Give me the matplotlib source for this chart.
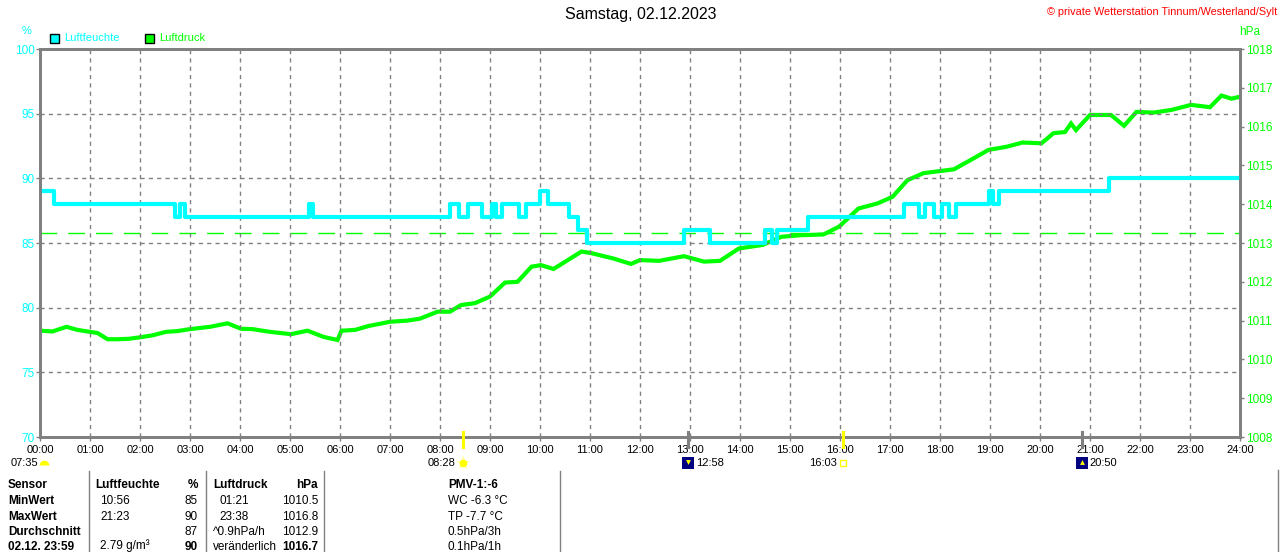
import matplotlib
matplotlib.use('Agg')
import matplotlib.pyplot as plt
from matplotlib.lines import Line2D
from matplotlib.patches import Rectangle

plt.rcParams['font.family'] = ['Liberation Sans', 'DejaVu Sans']

# --- data ---------------------------------------------------------------
# humidity (%), step changes: time in hours, value from that time on
hum_t = [0.00, 0.27, 2.70, 2.80, 2.90, 5.38, 5.45, 8.20, 8.38, 8.56, 8.84,
         9.04, 9.12, 9.24, 9.58, 9.72, 10.00, 10.15, 10.57, 10.75, 10.93,
         12.87, 13.40, 14.50, 14.63, 14.74, 15.36, 17.27, 17.57, 17.70,
         17.88, 18.03, 18.18, 18.32, 18.97, 19.05, 19.17, 21.38, 24.00]
hum_v = [89, 88, 87, 88, 87, 88, 87, 88, 87, 88, 87,
         88, 87, 88, 87, 88, 89, 88, 87, 86, 85,
         86, 85, 86, 85, 86, 87, 88, 87, 88,
         87, 88, 87, 88, 89, 88, 89, 90, 90]

# air pressure (hPa)
pres_t = [0.00, 0.25, 0.53, 0.75, 1.00, 1.15, 1.35, 1.55, 1.77, 2.00, 2.25,
          2.52, 2.75, 3.00, 3.40, 3.75, 4.02, 4.25, 4.60, 5.02, 5.35, 5.67,
          5.95, 6.03, 6.30, 6.57, 7.00, 7.35, 7.60, 7.95, 8.20, 8.42, 8.70,
          9.00, 9.30, 9.55, 9.83, 10.02, 10.27, 10.42, 10.83, 11.02, 11.47,
          11.82, 12.00, 12.38, 12.88, 13.28, 13.60, 13.98, 14.45, 14.83,
          15.20, 15.67, 15.98, 16.37, 16.75, 17.05, 17.35, 17.67, 18.28,
          18.67, 18.97, 19.33, 19.65, 20.03, 20.27, 20.50, 20.62, 20.72,
          21.00, 21.42, 21.68, 21.93, 22.27, 22.63, 23.02, 23.40, 23.63,
          23.83, 24.00]
pres_v = [1010.74, 1010.72, 1010.84, 1010.76, 1010.71, 1010.68, 1010.52,
          1010.52, 1010.53, 1010.57, 1010.62, 1010.71, 1010.73, 1010.78,
          1010.84, 1010.93, 1010.79, 1010.78, 1010.71, 1010.65, 1010.74,
          1010.58, 1010.50, 1010.74, 1010.76, 1010.86, 1010.97, 1011.00,
          1011.05, 1011.23, 1011.23, 1011.40, 1011.45, 1011.62, 1011.98,
          1012.00, 1012.39, 1012.43, 1012.33, 1012.45, 1012.78, 1012.74,
          1012.60, 1012.46, 1012.56, 1012.54, 1012.66, 1012.52, 1012.54,
          1012.86, 1012.95, 1013.16, 1013.20, 1013.22, 1013.42, 1013.89,
          1014.02, 1014.19, 1014.62, 1014.80, 1014.90, 1015.18, 1015.40,
          1015.48, 1015.59, 1015.57, 1015.83, 1015.86, 1016.08, 1015.91,
          1016.30, 1016.30, 1016.02, 1016.38, 1016.36, 1016.43, 1016.56,
          1016.50, 1016.80, 1016.72, 1016.77]

p_normal = 1013.25
hour_labels = ['%02d:00' % h for h in range(25)]

sun_events = [8 + 28 / 60, 16 + 3 / 60]     # sunrise / sunset
moon_events = [12 + 58 / 60, 20 + 50 / 60]  # moonset / moonrise

table_rows = [
    ['Sensor', 'Luftfeuchte', '%', 'Luftdruck', 'hPa', 'PMV-1:-6'],
    ['MinWert', '10:56', '85', '01:21', '1010.5', 'WC -6.3 °C'],
    ['MaxWert', '21:23', '90', '23:38', '1016.8', 'TP -7.7 °C'],
    ['Durchschnitt', '', '87', '^0.9hPa/h', '1012.9', '0.5hPa/3h'],
    ['02.12. 23:59', '2.79 g/m³', '90', 'veränderlich', '1016.7', '0.1hPa/1h'],
]

CYAN = '#00FFFF'
GREEN = '#00FF00'
GRAY = '#808080'
W, H = 1280, 552


def fx(x):
    return x / W


def fy(y):
    return 1 - y / H


fig = plt.figure(figsize=(12.8, 5.52), dpi=100)
ax = fig.add_axes([fx(40), fy(437), 1200 / W, 388 / H])
ax2 = ax.twinx()
ax.set_zorder(ax2.get_zorder() + 1)
ax.patch.set_visible(False)

# pressure (right axis)
ax2.plot(pres_t, pres_v, color=GREEN, lw=3, solid_joinstyle='miter')
ax2.axhline(p_normal, color=GREEN, lw=1, ls=(0, (12, 8)))
ax2.set_ylim(1008, 1018)
ax2.set_yticks(range(1008, 1019))
ax2.tick_params(axis='y', colors=GRAY, labelcolor=GREEN, labelsize=8.5,
                length=3, width=1, pad=1)

# humidity (left axis)
ax.step(hum_t, hum_v, where='post', color=CYAN, lw=3)
ax.set_xlim(0, 24)
ax.set_ylim(70, 100)
ax.set_xticks(range(25))
ax.set_xticklabels(hour_labels)
ax.set_yticks(range(70, 101, 5))
ax.tick_params(axis='y', colors=GRAY, labelcolor=CYAN, labelsize=8.5,
               length=3, width=1, pad=1)
ax.tick_params(axis='x', colors=GRAY, labelcolor='black', labelsize=8,
               length=3, width=1, pad=3)
ax.grid(True, color=GRAY, lw=1, ls=(0, (3, 3)))

for a in (ax, ax2):
    for s in a.spines.values():
        s.set_color(GRAY)
        s.set_linewidth(2)

# sun / moon marks on the time axis
xt = ax.get_xaxis_transform()
for t in sun_events:
    ax.plot([t, t], [0.013, -0.026], color='#FFFF00', lw=2.2, transform=xt,
            clip_on=False, zorder=5)
for t in moon_events:
    ax.plot([t, t], [0.013, -0.026], color=GRAY, lw=2.2, transform=xt,
            clip_on=False, zorder=5)

# icons and times below the hour labels
ax.plot([0.08], [-0.072], transform=xt, clip_on=False, marker='o', ms=7,
        fillstyle='top', markerfacecolor='#FFFF00', markerfacecoloralt='none',
        markeredgewidth=0)
fig.text(fx(38), fy(463), '07:35', fontsize=8, ha='right', va='center')
ax.plot([sun_events[0]], [-0.067], transform=xt, clip_on=False, marker='*',
        ms=11, color='#FFFFAA', markeredgewidth=0)
ax.plot([sun_events[0]], [-0.067], transform=xt, clip_on=False, marker='o',
        ms=5.5, color='#FFFF00', markeredgewidth=0)
fig.text(fx(456), fy(463), '08:28', fontsize=8, ha='right', va='center')
ax.plot([sun_events[1]], [-0.067], transform=xt, clip_on=False, marker='s',
        ms=5, markerfacecolor='none', markeredgecolor='#FFFF00', mew=1)
fig.text(fx(837), fy(463), '16:03', fontsize=8, ha='right', va='center')
for t, m in [(moon_events[0], 'v'), (moon_events[1], '^')]:
    ax.plot([t], [-0.067], transform=xt, clip_on=False, marker='s', ms=8,
            color='#000080', markeredgewidth=0)
    ax.plot([t], [-0.064], transform=xt, clip_on=False, marker=m, ms=3.5,
            color='#FFFF00', markeredgewidth=0)
fig.text(fx(696), fy(463), '12:58', fontsize=8, ha='left', va='center')
fig.text(fx(1089), fy(463), '20:50', fontsize=8, ha='left', va='center')

# titles, units, legend
fig.text(fx(641), fy(15), 'Samstag, 02.12.2023', fontsize=11.5,
         ha='center', va='center')
fig.text(fx(1277), fy(12), '© private Wetterstation Tinnum/Westerland/Sylt',
         fontsize=7.8, color='red', ha='right', va='center')
fig.text(fx(27), fy(31), '%', fontsize=8, color=CYAN, ha='center', va='center')
fig.text(fx(1250), fy(32), 'hPa', fontsize=8.5, color=GREEN, ha='center',
         va='center')
for x0, c, label in [(50, CYAN, 'Luftfeuchte'), (145, GREEN, 'Luftdruck')]:
    fig.add_artist(Rectangle((fx(x0), fy(43)), 9 / W, 9 / H, facecolor=c,
                             edgecolor='black', lw=1))
    fig.text(fx(x0 + 14), fy(38), label, fontsize=8, color=c, va='center')

# statistics table
for xs in (89, 206, 324, 560):
    fig.add_artist(Line2D([fx(xs), fx(xs)], [fy(471), 0], color=GRAY, lw=1))
fig.add_artist(Line2D([fx(1278), fx(1278)], [fy(470), 0], color=GRAY, lw=1))

row_base = [488.5, 504, 519.5, 535, 549.5]
for i, (row, y) in enumerate(zip(table_rows, row_base)):
    head = 'bold' if i == 0 else 'normal'
    kw = dict(fontsize=8.5, va='baseline')
    fig.text(fx(8), fy(y), row[0], fontweight='bold', **kw)
    fig.text(fx(95 if i == 0 else 100), fy(y), row[1], fontweight=head, **kw)
    fig.text(fx(198), fy(y), row[2], ha='right',
             fontweight='bold' if i in (0, 4) else 'normal', **kw)
    fig.text(fx(213 if i in (0, 3, 4) else 219), fy(y), row[3],
             fontweight=head, **kw)
    fig.text(fx(318), fy(y), row[4], ha='right',
             fontweight='bold' if i in (0, 4) else 'normal', **kw)
    fig.text(fx(448), fy(y), row[5], fontweight=head, **kw)

fig.savefig('out.png', dpi=100)
